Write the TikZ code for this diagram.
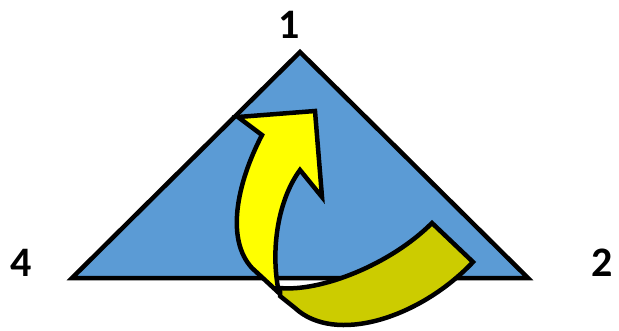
\documentclass[tikz,border=0pt]{standalone}
\usepackage{fontspec}
\setmainfont{Carlito}
\definecolor{triblue}{RGB}{91,155,213}
\definecolor{backyellow}{RGB}{204,204,0}
\definecolor{frontyellow}{RGB}{255,255,0}
\begin{document}
\begin{tikzpicture}[x=1pt,y=-1pt,
  outline/.style={draw=black, line width=4.5pt, miter limit=10},
  corner/.style={font=\fontsize{42}{42}\selectfont\bfseries, inner sep=0pt}]
\useasboundingbox (0,0) rectangle (619,330);
\coordinate (top) at (300,52);
\coordinate (left) at (72,278);
\coordinate (right) at (528,278);
\node[corner] (n1) at (289,25) {1};
\node[corner] (n4) at (21,263) {4};
\node[corner] (n2) at (602,263) {2};
\draw[outline, fill=triblue] (top) -- (right) -- (left) -- cycle;
\draw[outline, fill=backyellow] (280,288) .. controls (320,292) and (390,265) .. (432,223)
  -- (473,262) .. controls (420,318) and (335,345) .. (295,308) -- (280,296) -- cycle;
\draw[outline, fill=frontyellow] (279,293) .. controls (270,250) and (278,200) .. (300,170)
  -- (322,197) -- (315,111) -- (238,117) -- (262,135)
  .. controls (236,185) and (226,240) .. (252,268) -- cycle;
\end{tikzpicture}
\end{document}
